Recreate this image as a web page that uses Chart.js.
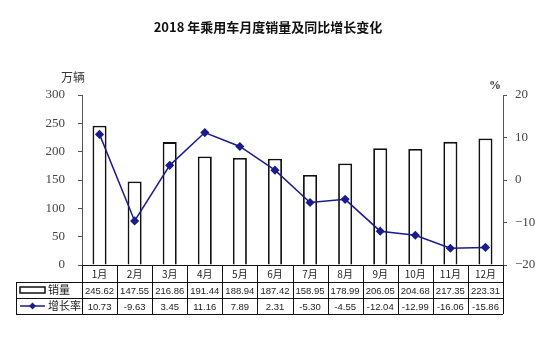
<!DOCTYPE html>
<html>
<head>
<meta charset="utf-8">
<script src="https://cdn.jsdelivr.net/npm/chart.js@4"></script>
<style>
  html, body { margin: 0; padding: 0; background: #fff; }
  #wrap { width: 550px; height: 341px; }
</style>
</head>
<body>
<div id="wrap"><canvas id="salesChart" width="550" height="341"></canvas></div>
<script>
// monthly passenger car sales (10k units) and YoY growth (%)
const months = ['1月', '2月', '3月', '4月', '5月', '6月', '7月', '8月', '9月', '10月', '11月', '12月'];
const sales = [245.62, 147.55, 216.86, 191.44, 188.94, 187.42, 158.95, 178.99, 206.05, 204.68, 217.35, 223.31];
const growth = [10.73, -9.63, 3.45, 11.16, 7.89, 2.31, -5.30, -4.55, -12.04, -12.99, -16.06, -15.86];
const salesTicks = [0, 50, 100, 150, 200, 250, 300];
const growthTicks = [-20, -10, 0, 10, 20];

const lineColor = '#1b1b8f';
const cjk = '"Noto Sans CJK SC", sans-serif';
const serif = 'Liberation Serif, DejaVu Serif, serif';

// title, unit labels and the data table under the x axis
const extras = {
  id: 'extras',
  afterDraw(chart) {
    const c = chart.ctx;
    const area = chart.chartArea;
    c.save();
    c.fillStyle = '#111';
    c.textBaseline = 'middle';
    c.textAlign = 'center';
    c.font = 'bold 13px ' + cjk;
    c.fillText('2018 年乘用车月度销量及同比增长变化', 268, 27);
    c.font = '12px ' + cjk;
    c.fillStyle = '#333';
    c.fillText('万辆', 73, 77);
    c.font = 'bold 12px ' + serif;
    c.fillText('%', 495, 86);

    // table grid
    const left = area.left, right = area.right;
    const w = (right - left) / months.length;
    const r0 = area.bottom, r1 = r0 + 17, r2 = r1 + 16, r3 = r2 + 16;
    const tl = 16;
    c.strokeStyle = '#111';
    c.lineWidth = 1;
    c.beginPath();
    c.moveTo(left, r0 + 0.5); c.lineTo(right, r0 + 0.5);
    [r1, r2, r3].forEach(y => { c.moveTo(tl, y + 0.5); c.lineTo(right, y + 0.5); });
    c.moveTo(tl + 0.5, r1); c.lineTo(tl + 0.5, r3);
    for (let i = 0; i <= months.length; i++) {
      const x = Math.round(left + i * w) + 0.5;
      c.moveTo(x, r0); c.lineTo(x, r3);
    }
    c.stroke();

    // legend cells
    c.lineWidth = 1.5;
    c.strokeStyle = '#111';
    c.fillStyle = '#fff';
    c.fillRect(20, r1 + 5, 25, 6);
    c.strokeRect(20, r1 + 5, 25, 6);
    c.strokeStyle = lineColor;
    c.beginPath();
    c.moveTo(20, (r2 + r3) / 2); c.lineTo(45, (r2 + r3) / 2);
    c.stroke();
    c.fillStyle = lineColor;
    c.beginPath();
    const mx = 32.5, my = (r2 + r3) / 2;
    c.moveTo(mx, my - 3.5); c.lineTo(mx + 3.5, my); c.lineTo(mx, my + 3.5); c.lineTo(mx - 3.5, my);
    c.closePath(); c.fill();
    c.fillStyle = '#222';
    c.textAlign = 'left';
    c.font = '11px ' + cjk;
    c.fillText('销量', 48, (r1 + r2) / 2);
    c.fillText('增长率', 48, (r2 + r3) / 2);

    // cell text
    c.textAlign = 'center';
    for (let i = 0; i < months.length; i++) {
      const x = chart.scales.x.getPixelForValue(i);
      c.font = '10px ' + cjk;
      c.fillText(months[i], x, (r0 + r1) / 2 + 1);
      c.font = '9.5px "Liberation Sans", Arial, sans-serif';
      c.fillText(sales[i].toFixed(2), x, (r1 + r2) / 2 + 1);
      c.fillText(growth[i].toFixed(2), x, (r2 + r3) / 2 + 1);
    }
    c.restore();
  }
};

const ctx = document.getElementById('salesChart').getContext('2d');
const salesChart = new Chart(ctx, {
  type: 'bar',
  data: {
    labels: months,
    datasets: [{
      type: 'line',
      label: '增长率',
      data: growth,
      yAxisID: 'y1',
      borderColor: lineColor,
      backgroundColor: lineColor,
      borderWidth: 1.5,
      pointStyle: 'rectRot',
      pointRadius: 3.5,
      tension: 0,
      order: 0
    }, {
      label: '销量',
      data: sales,
      yAxisID: 'y',
      backgroundColor: '#fff',
      borderColor: '#111',
      borderWidth: 1.8,
      barPercentage: 0.8,
      categoryPercentage: 0.5,
      order: 1
    }]
  },
  options: {
    responsive: false,
    animation: false,
    layout: { padding: { top: 95, left: 0, right: 0, bottom: 0 } },
    plugins: { legend: { display: false }, tooltip: { enabled: false } },
    scales: {
      x: {
        grid: { display: false },
        border: { display: false },
        ticks: { display: false },
        afterFit(scale) { scale.height = 76; }
      },
      y: {
        position: 'left',
        min: 0, max: 300,
        afterBuildTicks(scale) { scale.ticks = salesTicks.map(v => ({ value: v })); },
        grid: { drawOnChartArea: false, tickLength: 4, color: '#555' },
        border: { display: true, color: '#555', width: 1 },
        ticks: { color: '#444', padding: 13, font: { family: serif, size: 13 } },
        afterFit(scale) { scale.width = 82; }
      },
      y1: {
        position: 'right',
        min: -20, max: 20,
        afterBuildTicks(scale) { scale.ticks = growthTicks.map(v => ({ value: v })); },
        grid: { drawOnChartArea: false, tickLength: 4, color: '#555' },
        border: { display: true, color: '#555', width: 1 },
        ticks: {
          color: '#444', padding: 8, font: { family: serif, size: 13 },
          callback: v => (v < 0 ? '\u2212' + Math.abs(v) : String(v))
        },
        afterFit(scale) { scale.width = 47; }
      }
    }
  },
  plugins: [extras]
});
</script>
</body>
</html>
